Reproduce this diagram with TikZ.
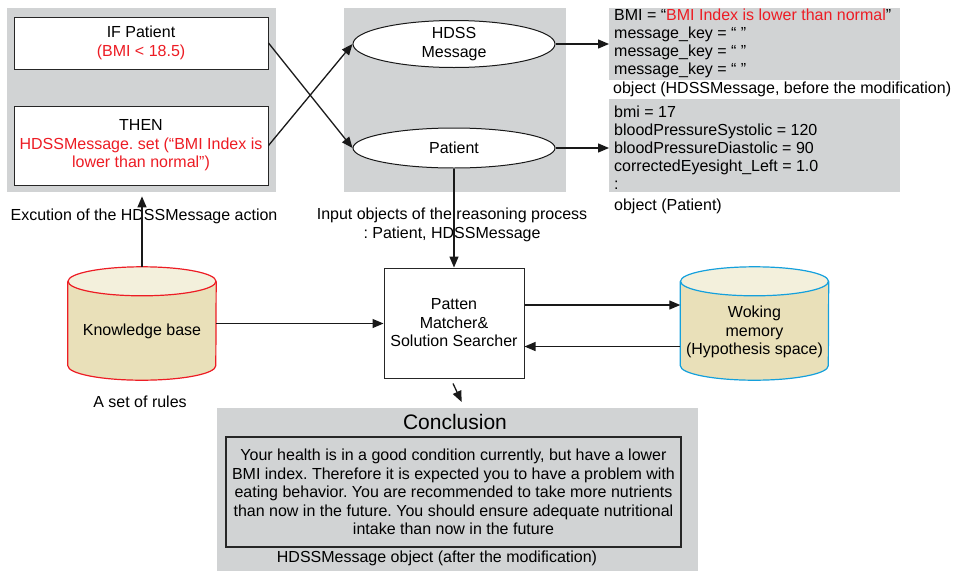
\documentclass[tikz,border=0pt]{standalone}
\usepackage{fontspec}
\setmainfont{Liberation Sans}
\usetikzlibrary{arrows.meta,shapes.geometric,positioning,calc}
\frenchspacing

\definecolor{panelgray}{RGB}{209,211,212}
\definecolor{msgred}{RGB}{237,28,36}
\definecolor{storebody}{RGB}{233,224,185}
\definecolor{storetop}{RGB}{243,240,220}
\definecolor{wmblue}{RGB}{20,160,220}

\tikzset{
  panel/.style={fill=panelgray, draw=none, inner sep=0pt, anchor=north west},
  rulebox/.style={draw=black!85, line width=1pt, fill=white, align=center, minimum width=254pt},
  objell/.style={ellipse, draw=black!90, line width=1pt, fill=white, minimum width=202pt, align=center, inner sep=0pt},
  listtext/.style={align=left, inner sep=0pt, anchor=north west, font=\fontsize{16}{18}\selectfont},
  plain/.style={align=center, inner sep=0pt},
  procbox/.style={draw=black!85, line width=1pt, fill=white, align=center, minimum width=140pt, minimum height=110pt},
  store/.style={minimum width=148pt, minimum height=113pt, inner sep=0pt},
  arr/.style={-{Triangle[length=11pt,width=9pt]}, line width=1.3pt, black!90},
}

% cylinder round an empty node: #1 node name, #2 border colour
\newcommand{\drawstore}[2]{%
  \fill[storebody] ([yshift=-14.5pt]#1.north west) rectangle ([yshift=14.5pt]#1.south east);
  \fill[storebody] ([yshift=14.5pt]#1.south) ellipse [x radius=74pt, y radius=14.5pt];
  \draw[#2, line width=1.2pt] ([yshift=-14.5pt]#1.north west) -- ([yshift=14.5pt]#1.south west)
    arc[start angle=180, end angle=360, x radius=74pt, y radius=14.5pt] -- ([yshift=-14.5pt]#1.north east);
  \filldraw[fill=storetop, draw=#2, line width=1.2pt] ([yshift=-14.5pt]#1.north) ellipse [x radius=74pt, y radius=14.5pt];
}

\begin{document}
\begin{tikzpicture}[x=1pt, y=-1pt, font=\fontsize{16}{18.5}\selectfont]
  \path[use as bounding box] (0,0) rectangle (954,571);

  % Rule panel (IF / THEN)
  \node[panel, minimum width=269pt, minimum height=184pt] (rulepanel) at (7,8) {};
  \node[rulebox, minimum height=52pt] (ifbox) at (141,43) {IF Patient\\\textcolor{msgred}{(BMI < 18.5)}};
  \node[rulebox, minimum height=79pt] (thenbox) at (141,145.5)
    {THEN\\\textcolor{msgred}{HDSSMessage. set (“BMI Index is}\\\textcolor{msgred}{lower than normal”)}};
  \node[plain] (exlabel) at (144,216) {Excution of the HDSSMessage action};

  % Object panel
  \node[panel, minimum width=222pt, minimum height=184pt] (objpanel) at (344,8) {};
  \node[objell, minimum height=47pt] (hdss) at (454,44) {HDSS\\Message};
  \node[objell, minimum height=40pt] (patient) at (454,148) {Patient};
  \node[plain] (inlabel) at (452,225) {Input objects of the reasoning process\\: Patient, HDSSMessage};

  % Object contents
  \node[panel, minimum width=291pt, minimum height=72pt] (hdssobj) at (609,8) {};
  \node[listtext] (hdsslist) at (614,9)
    {BMI = “\textcolor{msgred}{BMI Index is lower than normal}”\\message\_key = “ ”\\message\_key = “ ”\\message\_key = “ ”};
  \node[listtext, anchor=west] (hdsscap) at (613,89) {object (HDSSMessage, before the modification)};
  \node[panel, minimum width=291pt, minimum height=93pt] (patobj) at (609,99) {};
  \node[listtext] (patlist) at (614,106)
    {bmi = 17\\bloodPressureSystolic = 120\\bloodPressureDiastolic = 90\\correctedEyesight\_Left = 1.0\\:};
  \node[listtext, anchor=west] (patcap) at (614,206) {object (Patient)};

  % Knowledge base and working memory
  \node[store] (kb) at (142,323.5) {};
  \drawstore{kb}{msgred}
  \node[plain] (kblabel) at (142,331) {Knowledge base};
  \node[plain] (rulelabel) at (140,402) {A set of rules};
  \node[store] (wm) at (754.5,323.5) {};
  \drawstore{wm}{wmblue}
  \node[plain] (wmlabel) at (754.5,332) {Woking\\memory\\(Hypothesis space)};

  % Matcher
  \node[procbox] (matcher) at (454,323) {Patten\\Matcher\&\\Solution Searcher};

  % Conclusion
  \node[panel, minimum width=481pt, minimum height=163pt] (conclpanel) at (217,408) {};
  \node[plain, font=\fontsize{21}{24}\selectfont] (concltitle) at (455,422) {Conclusion};
  \node[draw=black!85, line width=1.2pt, minimum width=455pt, minimum height=110pt, align=center, inner sep=0pt] (concltext) at (453.5,492)
    {Your health is in a good condition currently, but have a lower\\BMI index. Therefore it is expected you to have a problem with\\eating behavior. You are recommended to take more nutrients\\than now in the future. You should ensure adequate nutritional\\intake than now in the future};
  \node[plain] (concllabel) at (437,558) {HDSSMessage object (after the modification)};

  % Connectors
  \draw[arr] (ifbox.east) -- (patient.west);
  \draw[arr] (thenbox.east) -- (hdss.west);
  \draw[arr] (hdss.east) -- (hdss.east -| hdssobj.west);
  \draw[arr] (patient.east) -- (patient.east -| patobj.west);
  \draw[arr] (patient.south) -- (matcher.north);
  \draw[arr] (kb.north) -- ([yshift=-4pt]kb.north |- rulepanel.south);
  \draw[arr] (kb.east) -- (kb.east -| matcher.west);
  \draw[arr] ([yshift=18pt]matcher.east) -- ([yshift=18pt]matcher.east -| wm.west);
  \draw[arr] ([yshift=-23pt]wm.west) -- ([yshift=-23pt]wm.west -| matcher.east);
  \draw[arr] ([xshift=-1pt,yshift=-5pt]matcher.south) -- ([xshift=4pt,yshift=6pt]conclpanel.north);
\end{tikzpicture}
\end{document}
